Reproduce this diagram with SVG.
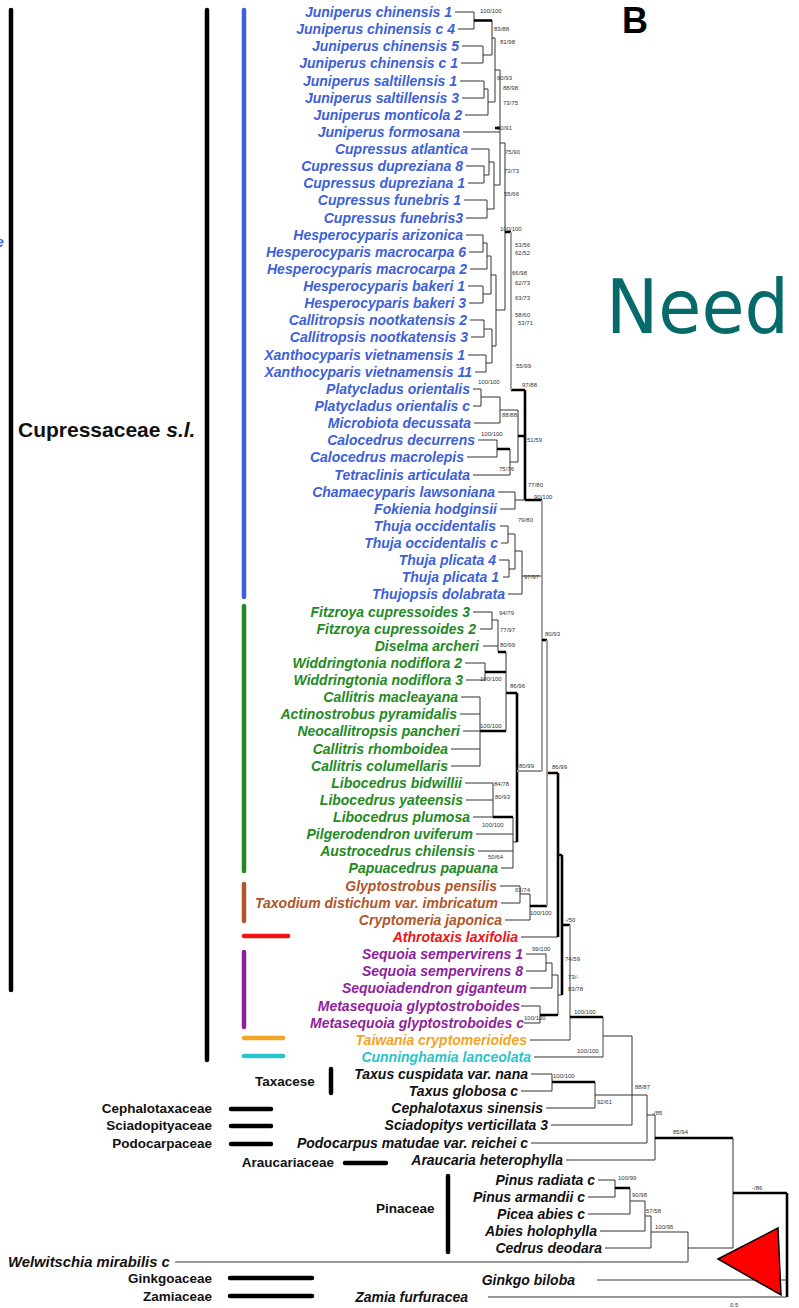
<svg xmlns="http://www.w3.org/2000/svg" width="799" height="1308" viewBox="0 0 799 1308">
<style>
.tx{font-family:"Liberation Sans",Arial,sans-serif;font-style:italic;font-weight:bold;font-size:14px;text-anchor:end}
.fam{font-family:"Liberation Sans",Arial,sans-serif;font-weight:bold;font-size:14px;fill:#111}
.bl{fill:#3d5fd9}.gr{fill:#238a23}.brn{fill:#b0562a}.rd{fill:#ee1515}.pu{fill:#8e1f9e}.or{fill:#f2a424}.cy{fill:#28c4cc}.bk{fill:#111}
.br{stroke:#333;stroke-width:1;fill:none}
.bg{stroke:#999;stroke-width:1.8;fill:none}
.th{stroke:#000;stroke-width:2.6;fill:none}
.bar{stroke-width:4.5;stroke-linecap:round;fill:none}
.bs{font-family:"Liberation Sans",Arial,sans-serif;font-size:6px;fill:#333}
</style>
<rect width="799" height="1308" fill="#fff"/>

<g id="brackets">
<line class="bar" x1="11" y1="10" x2="11" y2="990" stroke="#000"/>
<line class="bar" x1="207" y1="10" x2="207" y2="1060" stroke="#000"/>
<line class="bar" x1="244" y1="10" x2="244" y2="597" stroke="#3d5fd9"/>
<line class="bar" x1="244" y1="606" x2="244" y2="871" stroke="#238a23"/>
<line class="bar" x1="244" y1="884" x2="244" y2="921" stroke="#b0562a"/>
<line class="bar" x1="244" y1="936" x2="288" y2="936" stroke="#ee1515"/>
<line class="bar" x1="244" y1="952" x2="244" y2="1027" stroke="#8e1f9e"/>
<line class="bar" x1="244" y1="1038" x2="283" y2="1038" stroke="#f2a424"/>
<line class="bar" x1="244" y1="1056" x2="283" y2="1056" stroke="#28c4cc"/>
<line class="bar" x1="331" y1="1069" x2="331" y2="1093" stroke="#000"/>
<line class="bar" x1="231" y1="1109" x2="271" y2="1109" stroke="#000"/>
<line class="bar" x1="231" y1="1126" x2="271" y2="1126" stroke="#000"/>
<line class="bar" x1="231" y1="1144" x2="271" y2="1144" stroke="#000"/>
<line class="bar" x1="345" y1="1163" x2="386" y2="1163" stroke="#000"/>
<line class="bar" x1="448" y1="1176" x2="448" y2="1252" stroke="#000"/>
<line class="bar" x1="230" y1="1278" x2="312" y2="1278" stroke="#000"/>
<line class="bar" x1="230" y1="1296" x2="312" y2="1296" stroke="#000"/>
</g>

<g id="family-labels">
<text class="fam" x="18" y="437" style="font-size:21px">Cupressaceae <tspan font-style="italic">s.l.</tspan></text>
<text class="fam" x="255" y="1086" style="font-size:13.5px">Taxacese</text>
<text class="fam" x="212" y="1113" text-anchor="end" style="font-size:13.5px">Cephalotaxaceae</text>
<text class="fam" x="212" y="1130" text-anchor="end" style="font-size:13.5px">Sciadopityaceae</text>
<text class="fam" x="212" y="1148" text-anchor="end" style="font-size:13.5px">Podocarpaceae</text>
<text class="fam" x="334" y="1167" text-anchor="end" style="font-size:13.5px">Araucariaceae</text>
<text class="fam" x="376" y="1213" style="font-size:13.5px">Pinaceae</text>
<text class="fam" x="212" y="1283" text-anchor="end" style="font-size:13.5px">Ginkgoaceae</text>
<text class="fam" x="212" y="1301" text-anchor="end" style="font-size:13.5px">Zamiaceae</text>
<text class="tx bl" x="-4" y="247" style="text-anchor:start">e</text>
<text x="622" y="33" style="font-family:'Liberation Sans',Arial,sans-serif;font-weight:bold;font-size:36px" fill="#000">B</text>
<text transform="translate(606,333) scale(1,1.08)" x="0" y="0" style="font-family:'DejaVu Sans',sans-serif;font-size:70px" fill="#066a6a">Need</text>
</g>

<g id="tips">
<g id="t1"><text class="tx bl" x="452" y="17">Juniperus chinensis 1</text></g>
<g id="t2"><text class="tx bl" x="455" y="34">Juniperus chinensis c 4</text></g>
<g id="t3"><text class="tx bl" x="459" y="51">Juniperus chinensis 5</text></g>
<g id="t4"><text class="tx bl" x="458" y="68">Juniperus chinensis c 1</text></g>
<g id="t5"><text class="tx bl" x="457" y="86">Juniperus saltillensis 1</text></g>
<g id="t6"><text class="tx bl" x="459" y="103">Juniperus saltillensis 3</text></g>
<g id="t7"><text class="tx bl" x="462" y="120">Juniperus monticola 2</text></g>
<g id="t8"><text class="tx bl" x="460" y="137">Juniperus formosana</text></g>
<g id="t9"><text class="tx bl" x="468" y="154">Cupressus atlantica</text></g>
<g id="t10"><text class="tx bl" x="463" y="171">Cupressus dupreziana 8</text></g>
<g id="t11"><text class="tx bl" x="465" y="188">Cupressus dupreziana 1</text></g>
<g id="t12"><text class="tx bl" x="461" y="205">Cupressus funebris 1</text></g>
<g id="t13"><text class="tx bl" x="463" y="223">Cupressus funebris3</text></g>
<g id="t14"><text class="tx bl" x="463" y="240">Hesperocyparis arizonica</text></g>
<g id="t15"><text class="tx bl" x="466" y="257">Hesperocyparis macrocarpa 6</text></g>
<g id="t16"><text class="tx bl" x="467" y="274">Hesperocyparis macrocarpa 2</text></g>
<g id="t17"><text class="tx bl" x="465" y="291">Hesperocyparis bakeri 1</text></g>
<g id="t18"><text class="tx bl" x="466" y="308">Hesperocyparis bakeri 3</text></g>
<g id="t19"><text class="tx bl" x="467" y="325">Callitropsis nootkatensis 2</text></g>
<g id="t20"><text class="tx bl" x="468" y="342">Callitropsis nootkatensis 3</text></g>
<g id="t21"><text class="tx bl" x="465" y="360">Xanthocyparis vietnamensis 1</text></g>
<g id="t22"><text class="tx bl" x="472" y="377">Xanthocyparis vietnamensis 11</text></g>
<g id="t23"><text class="tx bl" x="470" y="394">Platycladus orientalis</text></g>
<g id="t24"><text class="tx bl" x="470" y="411">Platycladus orientalis c</text></g>
<g id="t25"><text class="tx bl" x="471" y="428">Microbiota decussata</text></g>
<g id="t26"><text class="tx bl" x="475" y="445">Calocedrus decurrens</text></g>
<g id="t27"><text class="tx bl" x="464" y="462">Calocedrus macrolepis</text></g>
<g id="t28"><text class="tx bl" x="470" y="480">Tetraclinis articulata</text></g>
<g id="t29"><text class="tx bl" x="495" y="497">Chamaecyparis lawsoniana</text></g>
<g id="t30"><text class="tx bl" x="497" y="514">Fokienia hodginsii</text></g>
<g id="t31"><text class="tx bl" x="496" y="531">Thuja occidentalis</text></g>
<g id="t32"><text class="tx bl" x="498" y="548">Thuja occidentalis c</text></g>
<g id="t33"><text class="tx bl" x="496" y="565">Thuja plicata 4</text></g>
<g id="t34"><text class="tx bl" x="499" y="582">Thuja plicata 1</text></g>
<g id="t35"><text class="tx bl" x="505" y="599">Thujopsis dolabrata</text></g>
<g id="t36"><text class="tx gr" x="470" y="617">Fitzroya cupressoides 3</text></g>
<g id="t37"><text class="tx gr" x="476" y="634">Fitzroya cupressoides 2</text></g>
<g id="t38"><text class="tx gr" x="479" y="651">Diselma archeri</text></g>
<g id="t39"><text class="tx gr" x="462" y="668">Widdringtonia nodiflora 2</text></g>
<g id="t40"><text class="tx gr" x="463" y="685">Widdringtonia nodiflora 3</text></g>
<g id="t41"><text class="tx gr" x="458" y="702">Callitris macleayana</text></g>
<g id="t42"><text class="tx gr" x="457" y="719">Actinostrobus pyramidalis</text></g>
<g id="t43"><text class="tx gr" x="460" y="736">Neocallitropsis pancheri</text></g>
<g id="t44"><text class="tx gr" x="448" y="754">Callitris rhomboidea</text></g>
<g id="t45"><text class="tx gr" x="448" y="771">Callitris columellaris</text></g>
<g id="t46"><text class="tx gr" x="462" y="788">Libocedrus bidwillii</text></g>
<g id="t47"><text class="tx gr" x="463" y="805">Libocedrus yateensis</text></g>
<g id="t48"><text class="tx gr" x="470" y="822">Libocedrus plumosa</text></g>
<g id="t49"><text class="tx gr" x="473" y="839">Pilgerodendron uviferum</text></g>
<g id="t50"><text class="tx gr" x="475" y="856">Austrocedrus chilensis</text></g>
<g id="t51"><text class="tx gr" x="498" y="873">Papuacedrus papuana</text></g>
<g id="t52"><text class="tx brn" x="497" y="891">Glyptostrobus pensilis</text></g>
<g id="t53"><text class="tx brn" x="498" y="908">Taxodium distichum var. imbricatum</text></g>
<g id="t54"><text class="tx brn" x="502" y="925">Cryptomeria japonica</text></g>
<g id="t55"><text class="tx rd" x="518" y="942">Athrotaxis laxifolia</text></g>
<g id="t56"><text class="tx pu" x="523" y="959">Sequoia sempervirens 1</text></g>
<g id="t57"><text class="tx pu" x="523" y="976">Sequoia sempervirens 8</text></g>
<g id="t58"><text class="tx pu" x="527" y="993">Sequoiadendron giganteum</text></g>
<g id="t59"><text class="tx pu" x="520" y="1011">Metasequoia glyptostroboides</text></g>
<g id="t60"><text class="tx pu" x="524" y="1028">Metasequoia glyptostroboides c</text></g>
<g id="t61"><text class="tx or" x="527" y="1045">Taiwania cryptomerioides</text></g>
<g id="t62"><text class="tx cy" x="531" y="1062">Cunninghamia lanceolata</text></g>
<g id="t63"><text class="tx bk" x="528" y="1079">Taxus cuspidata var. nana</text></g>
<g id="t64"><text class="tx bk" x="518" y="1096">Taxus globosa c</text></g>
<g id="t65"><text class="tx bk" x="543" y="1113">Cephalotaxus sinensis</text></g>
<g id="t66"><text class="tx bk" x="548" y="1130">Sciadopitys verticillata 3</text></g>
<g id="t67"><text class="tx bk" x="528" y="1148">Podocarpus matudae var. reichei c</text></g>
<g id="t68"><text class="tx bk" x="563" y="1165">Araucaria heterophylla</text></g>
<g id="t69"><text class="tx bk" x="595" y="1185">Pinus radiata c</text></g>
<g id="t70"><text class="tx bk" x="585" y="1202">Pinus armandii c</text></g>
<g id="t71"><text class="tx bk" x="585" y="1219">Picea abies c</text></g>
<g id="t72"><text class="tx bk" x="597" y="1236">Abies holophylla</text></g>
<g id="t73"><text class="tx bk" x="602" y="1253">Cedrus deodara</text></g>
<g id="t74"><text class="tx bk" x="8" y="1267" style="text-anchor:start;font-size:14.8px">Welwitschia mirabilis c</text></g>
<g id="t75"><text class="tx bk" x="575" y="1285">Ginkgo biloba</text></g>
<g id="t76"><text class="tx bk" x="468" y="1302">Zamia furfuracea</text></g>
</g>

<g id="connectors">
<path class="br" d="M455 12H474M458 29H474M474 12V29M462 46H483M461 63H483M483 46V63M483 55H492M492 20V55M492 38H495M460 81H484M462 98H484M484 81V98M484 89H488M465 115H488M488 89V115M488 102H495M495 38V102M495 70H500M463 132H500"/>
<path class="th" d="M474 20.5H492M495 128H500"/>
<path class="br" d="M466 166H484M468 183H484M484 166V183M484 175H489M471 149H489M489 149V175M489 162H494M464 200H487M466 218H487M487 200V218M487 209H494M494 162V209M494 185H500M500 70V185M500 143H505"/>
<path class="br" d="M466 235H483M469 252H483M483 235V252M483 243H487M470 269H487M487 243V269M487 256H491M468 286H483M469 303H483M483 286V303M483 294H491M491 256V294M491 275H496M470 320H484M471 337H484M484 320V337M484 329H492M468 355H486M475 372H486M486 355V372M486 363H492M492 329V363M492 346H496M496 275V346M496 310H505M505 143V310"/>
<path class="th" d="M505 232H511M511 390H525"/>
<path class="bg" d="M511 232V390"/>
<path class="br" d="M473 389H481M473 406H481M481 389V406M481 397H500M474 423H500M500 397V423M500 410H518M478 440H497M467 457H497M497 440V457M497 449H510M473 475H510M510 449V475M510 462H518M518 410V462"/>
<path class="th" d="M518 436H525M525 390V500M525 500H542M497 449H510"/>
<path class="br" d="M498 492H515M500 509H515M515 492V509M515 500H525"/>
<path class="br" d="M500 526H508M501 543H508M508 526V543M508 534H515M499 560H509M503 577H509M509 560V577M509 569H515M515 534V569M515 551H522M508 594H522M522 551V594M522 576H542"/>
<path class="br" d="M473 612H492M480 629H492M492 612V629M492 620H498M483 646H498M498 620V652M465 663H485M466 680H485M485 663V680"/>
<path class="th" d="M498 652H506M485 672H506M480 731H506M506 693H517"/>
<path class="br" d="M506 652V731M461 697H480M460 714H480M463 731H480M451 749H480M451 766H480M480 697V766"/>
<path class="br" d="M465 783H493M466 800H493M493 783V817M473 817H493M476 834H513M478 851H513M501 868H513M513 817V868M513 842H517"/>
<path class="th" d="M493 817H513M517 693V842"/>
<path class="bg" d="M517 771H542M542 500V771"/>
<path class="th" d="M542 640H547"/>
<path class="br" d="M500 886H520M501 903H520M520 886V903M520 894H530M505 920H530M530 894V920"/>
<path class="th" d="M530 906H547M547 773H558"/>
<path class="bg" d="M547 640V906"/>
<path class="br" d="M521 937H558"/>
<path class="th" d="M558 773V937M558 855H562"/>
<path class="br" d="M526 954H546M526 971H546M546 954V971M546 963H552M530 988H552M552 963V988M552 975H558M521 1006H540M524 1023H540M540 1006V1023M558 975V1015M558 995H562"/>
<path class="th" d="M540 1015H558M562 855V995M562 925H570"/>
<path class="bg" d="M570 925V1040M603 1017V1057"/>
<path class="br" d="M530 1040H570M534 1057H603"/>
<path class="th" d="M570 1017H603"/>
<path class="br" d="M603 1036H632M531 1074H552M521 1091H552M552 1074V1091M546 1108H595M595 1082V1108M595 1095H632M551 1125H632M632 1036V1125M632 1095H647M531 1143H647M647 1095V1143M647 1115H655M566 1160H655M655 1115V1160"/>
<path class="th" d="M552 1082H595M655 1138H733"/>
<path class="br" d="M598 1180H615M588 1197H615M615 1180V1197M588 1214H630M630 1188V1214M630 1201H645M600 1231H645M645 1201V1231M645 1216H651M605 1248H651M651 1216V1248M651 1232H688M688 1232V1262M688 1248H733M733 1138V1248"/>
<path class="th" d="M615 1188H630M733 1193H787M787 1193V1297"/>
<path class="bg" d="M175 1262H688"/>
<path class="br" d="M597 1280H787M488 1297H787"/>
<polygon points="718,1259 778,1228 781,1295" fill="#ff0000" stroke="#000" stroke-width="1.5"/>
</g>

<g id="support">
<text class="bs" x="480" y="13">100/100</text>
<text class="bs" x="494" y="31">83/88</text>
<text class="bs" x="500" y="44">81/98</text>
<text class="bs" x="497" y="80">60/93</text>
<text class="bs" x="503" y="90">88/98</text>
<text class="bs" x="503" y="105">73/75</text>
<text class="bs" x="497" y="130">50/91</text>
<text class="bs" x="505" y="154">75/90</text>
<text class="bs" x="504" y="173">73/73</text>
<text class="bs" x="504" y="196">55/66</text>
<text class="bs" x="500" y="231">100/100</text>
<text class="bs" x="515" y="247">53/56</text>
<text class="bs" x="515" y="255">62/52</text>
<text class="bs" x="512" y="275">66/98</text>
<text class="bs" x="515" y="285">62/73</text>
<text class="bs" x="515" y="300">63/73</text>
<text class="bs" x="515" y="317">58/60</text>
<text class="bs" x="518" y="325">53/71</text>
<text class="bs" x="516" y="368">55/99</text>
<text class="bs" x="478" y="384">100/100</text>
<text class="bs" x="522" y="387">97/88</text>
<text class="bs" x="502" y="417">88/88</text>
<text class="bs" x="481" y="436">100/100</text>
<text class="bs" x="527" y="442">51/59</text>
<text class="bs" x="499" y="471">75/76</text>
<text class="bs" x="528" y="487">77/80</text>
<text class="bs" x="534" y="499">90/100</text>
<text class="bs" x="518" y="522">79/80</text>
<text class="bs" x="524" y="579">97/97</text>
<text class="bs" x="499" y="615">94/79</text>
<text class="bs" x="500" y="632">77/97</text>
<text class="bs" x="500" y="647">80/99</text>
<text class="bs" x="545" y="636">80/93</text>
<text class="bs" x="480" y="681">100/100</text>
<text class="bs" x="510" y="688">86/96</text>
<text class="bs" x="480" y="728">100/100</text>
<text class="bs" x="519" y="768">80/99</text>
<text class="bs" x="552" y="769">86/99</text>
<text class="bs" x="494" y="786">84/78</text>
<text class="bs" x="495" y="799">80/93</text>
<text class="bs" x="482" y="827">100/100</text>
<text class="bs" x="488" y="859">50/64</text>
<text class="bs" x="515" y="892">63/74</text>
<text class="bs" x="530" y="915">100/100</text>
<text class="bs" x="565" y="922">-/50</text>
<text class="bs" x="532" y="951">99/100</text>
<text class="bs" x="565" y="961">74/59</text>
<text class="bs" x="568" y="979">73/-</text>
<text class="bs" x="568" y="991">83/78</text>
<text class="bs" x="524" y="1020">100/100</text>
<text class="bs" x="574" y="1014">100/100</text>
<text class="bs" x="577" y="1053">100/100</text>
<text class="bs" x="553" y="1078">100/100</text>
<text class="bs" x="635" y="1089">88/87</text>
<text class="bs" x="597" y="1104">92/61</text>
<text class="bs" x="652" y="1115">-/85</text>
<text class="bs" x="673" y="1134">85/94</text>
<text class="bs" x="618" y="1180">100/99</text>
<text class="bs" x="632" y="1197">90/98</text>
<text class="bs" x="646" y="1213">57/58</text>
<text class="bs" x="655" y="1229">100/95</text>
<text class="bs" x="752" y="1190">-/86</text>
<text class="bs" x="730" y="1307">0.5</text>
</g>
</svg>
